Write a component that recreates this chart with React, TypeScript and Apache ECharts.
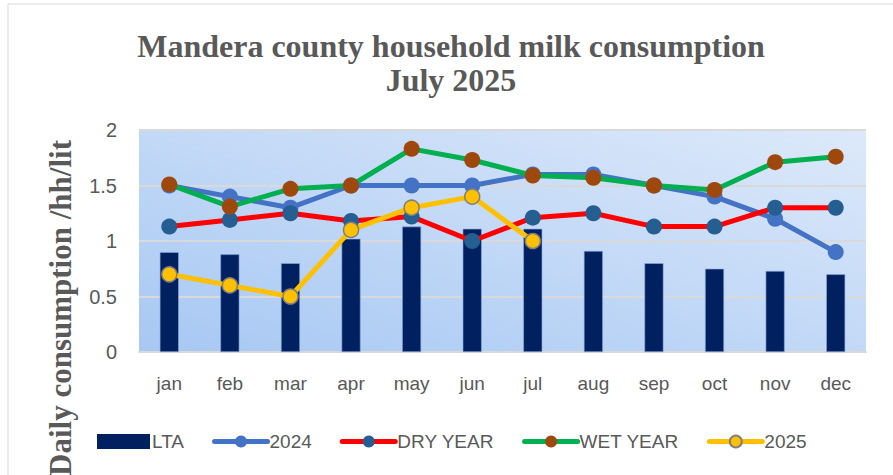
import React, { useEffect, useRef } from "react";
import * as echarts from "echarts";

const months = ["jan", "feb", "mar", "apr", "may", "jun", "jul", "aug", "sep", "oct", "nov", "dec"];
const yTicks = [0, 0.5, 1, 1.5, 2];
const lta = [0.9, 0.88, 0.8, 1.02, 1.13, 1.11, 1.11, 0.91, 0.8, 0.75, 0.73, 0.7];
const y2024 = [1.5, 1.4, 1.3, 1.5, 1.5, 1.5, 1.6, 1.6, 1.5, 1.4, 1.2, 0.9];
const dryYear = [1.13, 1.19, 1.25, 1.18, 1.22, 1.0, 1.21, 1.25, 1.13, 1.13, 1.3, 1.3];
const wetYear = [1.51, 1.31, 1.47, 1.5, 1.83, 1.73, 1.59, 1.57, 1.5, 1.46, 1.71, 1.76];
const y2025 = [0.7, 0.6, 0.5, 1.1, 1.3, 1.4, 1.0, null, null, null, null, null];

const GRAY = "#595959";
const SANS = "'Liberation Sans', Arial, sans-serif";
const SERIF = "'Liberation Serif', 'Times New Roman', serif";

export default function App() {
  const ref = useRef<HTMLDivElement>(null);
  useEffect(() => {
    if (!ref.current) return;
    const chart = echarts.init(ref.current, null, { renderer: "svg" });
    const lineSeries = (name: string, data: (number | null)[], color: string, markerColor: string, border?: string) => ({
      name,
      type: "line",
      data,
      symbol: "circle",
      symbolSize: border ? 15 : 16,
      lineStyle: { color, width: 5, cap: "round", join: "round" },
      itemStyle: border
        ? { color: markerColor, borderColor: border, borderWidth: 1.5 }
        : { color: markerColor, borderWidth: 0 },
      connectNulls: false,
      z: 3,
    });
    chart.setOption({
      animation: false,
      backgroundColor: "#ffffff",
      title: {
        text: "Mandera county household milk consumption\nJuly 2025",
        left: 446,
        textAlign: "center",
        top: 24,
        textStyle: {
          fontFamily: SERIF,
          fontWeight: "bold",
          fontSize: 32,
          lineHeight: 34,
          color: GRAY,
        },
      },
      graphic: [
        {
          type: "rect",
          shape: { x: 8, y: 4, width: 1000, height: 600 },
          style: { fill: "none", stroke: "#D9D9D9", lineWidth: 1 },
          silent: true,
          z: -10,
        },
        {
          type: "rect",
          shape: { x: 139, y: 130, width: 727, height: 222 },
          style: {
            fill: new echarts.graphic.LinearGradient(0, 1, 1, 0, [
              { offset: 0, color: "#A7C8F3" },
              { offset: 1, color: "#DDE9FA" },
            ]),
          },
          silent: true,
          z: -5,
        },
        {
          type: "text",
          x: 60,
          y: 308,
          rotation: Math.PI / 2,
          style: {
            text: "Daily consumption /hh/lit",
            fontFamily: SERIF,
            fontWeight: "bold",
            fontSize: 31,
            fill: GRAY,
            textAlign: "center",
            textVerticalAlign: "middle",
          },
        },
      ],
      legend: {
        top: 427,
        left: 92,
        itemWidth: 53,
        itemHeight: 15,
        itemGap: 28,
        lineStyle: { width: 5, cap: "round" },
        textStyle: { fontFamily: SANS, fontSize: 19, color: GRAY, padding: [0, 0, 0, -3] },
        data: [
          { name: "LTA", icon: "rect", itemStyle: { borderWidth: 0 } },
          "2024",
          "DRY YEAR",
          "WET YEAR",
          "2025",
        ],
      },
      grid: { left: 139, right: 27, top: 130, bottom: 123 },
      xAxis: {
        type: "category",
        data: months,
        axisLine: { lineStyle: { color: "#D9D9D9", width: 2 } },
        axisTick: { show: false },
        axisLabel: { fontFamily: SANS, fontSize: 19, color: GRAY, margin: 22 },
      },
      yAxis: {
        type: "value",
        min: 0,
        max: 2,
        interval: 0.5,
        axisLine: { show: false },
        axisTick: { show: false },
        splitLine: { lineStyle: { color: "#D9D9D9", width: 2 } },
        axisLabel: {
          fontFamily: SANS,
          fontSize: 20,
          color: GRAY,
          margin: 22,
          formatter: (v: number) => (yTicks.includes(v) ? String(v) : ""),
        },
      },
      series: [
        {
          name: "LTA",
          type: "bar",
          data: lta,
          barWidth: 19,
          itemStyle: { color: "#002060", borderColor: "#8FAADC", borderWidth: 0.6 },
          z: 2,
        },
        lineSeries("2024", y2024, "#4472C4", "#4472C4"),
        lineSeries("DRY YEAR", dryYear, "#FF0000", "#255E91"),
        lineSeries("WET YEAR", wetYear, "#00B050", "#9E480E"),
        lineSeries("2025", y2025, "#FFC000", "#FFC000", "#7F7F7F"),
      ],
    });
    return () => chart.dispose();
  }, []);
  return (
    <div
      ref={ref}
      style={{ position: "fixed", left: 0, top: 0, width: 893, height: 475 }}
    />
  );
}
